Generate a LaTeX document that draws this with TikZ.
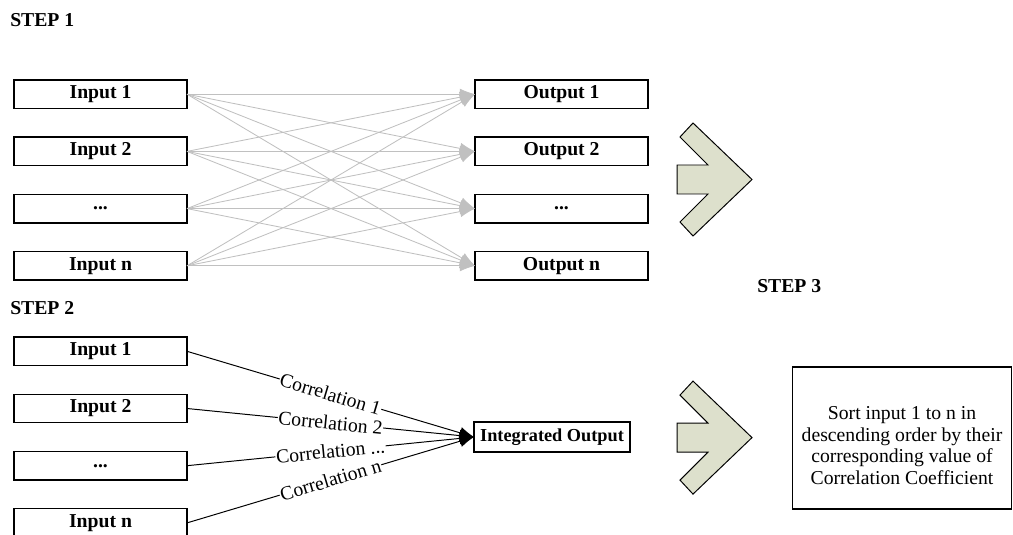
\documentclass[tikz,border=0pt]{standalone}
\usepackage{fontspec}
\setmainfont{Liberation Serif}
\usetikzlibrary{arrows.meta,positioning,calc}

\definecolor{linkgray}{RGB}{192,192,192}
\definecolor{chevfill}{RGB}{221,224,204}

\newcommand{\tdots}{...}
\newcommand{\diagfont}{\fontsize{14}{15.4}\selectfont}

\tikzset{
  box/.style={draw, line width=1pt, minimum width=4.325cm, minimum height=0.71cm,
    inner sep=0pt, outer sep=0pt, font=\diagfont\bfseries},
  steplabel/.style={anchor=base west, inner sep=0pt, font=\diagfont\bfseries},
  graylink/.style={linkgray, line width=0.6pt, -{Latex[length=0.38cm,width=0.28cm]}},
  corrlink/.style={line width=0.7pt, -{Latex[length=0.36cm,width=0.3cm]}},
  corrlabel/.style={sloped, midway, fill=white, inner sep=0.5pt},
  chevron/.style={draw, line width=0.7pt, fill=chevfill, line join=miter}
}

\begin{document}
\begin{tikzpicture}[font=\diagfont, node distance=0.72cm]
  \useasboundingbox (0,0) rectangle (25.325,-13.375);

  % step 1: every input to every output
  \node[steplabel] (step1) at (0.25,-0.667) {STEP 1};
  \node[box] (in1) at (2.5125,-2.355) {Input 1};
  \node[box, below=of in1] (in2) {Input 2};
  \node[box, below=of in2] (in3) {...};
  \node[box, below=of in3] (in4) {Input n};

  \node[box, right=7.2cm of in1] (out1) {Output 1};
  \node[box, below=of out1] (out2) {Output 2};
  \node[box, below=of out2] (out3) {...};
  \node[box, below=of out3] (out4) {Output n};

  \foreach \i in {1,2,3,4}{
    \foreach \j in {1,2,3,4}{
      \draw[graylink] (in\i.east) -- (out\j.west);
    }
  }

  % step 2: correlation of each input with the integrated output
  \node[steplabel] (step2) at (0.25,-7.875) {STEP 2};
  \node[box] (src1) at (2.5125,-8.7825) {Input 1};
  \node[box, below=of src1] (src2) {Input 2};
  \node[box, below=of src2] (src3) {...};
  \node[box, below=of src3] (src4) {Input n};

  \node[box, minimum width=3.9cm, minimum height=0.75cm, font=\fontsize{13}{15}\selectfont\bfseries]
    (integ) at (13.8,-10.925) {Integrated Output};

  \foreach \i/\t in {1/1,2/2,3/\tdots,4/n}{
    \draw[corrlink] (src\i.east) -- node[corrlabel] {Correlation \t} (integ.west);
  }

  % step 3
  \node[steplabel] (step3) at (18.925,-7.3) {STEP 3};
  \node[draw, line width=1pt, minimum width=5.475cm, minimum height=3.55cm] (sortbox) at (22.55,-10.95) {};
  \node[align=center, inner sep=0pt] (sorttext) at ([yshift=-0.19cm]sortbox.center)
    {Sort input 1 to n in\\ descending order by their\\ corresponding value of\\ Correlation Coefficient};

  % chevrons between the steps
  \coordinate (chev1) at (16.925,-4.4875);
  \coordinate (chev2) at (16.925,-10.94);
  \foreach \c in {chev1,chev2}{
    \draw[chevron] ($(\c)+(0,0.3625)$) -- ++(0.775,0) -- ++(-0.7,0.7) -- ++(0.325,0.35)
      -- ++(1.475,-1.4125) -- ++(-1.475,-1.4125) -- ++(-0.325,0.35) -- ++(0.7,0.7)
      -- ++(-0.775,0) -- cycle;
  }

\end{tikzpicture}
\end{document}
